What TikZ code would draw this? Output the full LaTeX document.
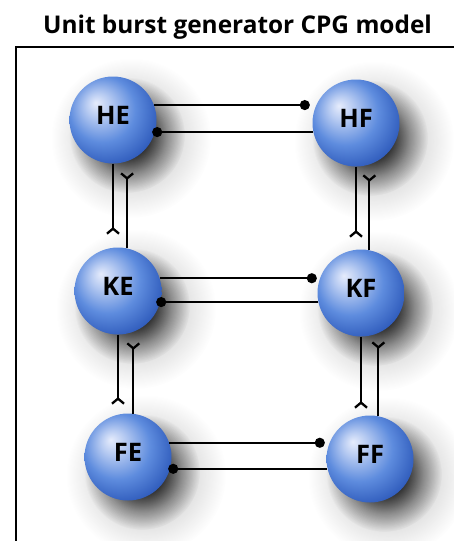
\documentclass[tikz,border=0pt]{standalone}
\usepackage{fontspec}
\setmainfont{Open Sans}
\usetikzlibrary{arrows.meta,calc,fadings}
\definecolor{sphmid}{RGB}{94,140,222}
\definecolor{sphlight}{RGB}{230,236,252}
\definecolor{sphdark}{RGB}{42,86,184}
\pgfdeclareradialshading{sphere}{\pgfpoint{-10bp}{10bp}}{color(0bp)=(sphlight); color(7bp)=(sphlight!65!sphmid); color(19bp)=(sphmid); color(32bp)=(sphdark); color(50bp)=(sphdark)}
\pgfdeclareradialshading{shfadeshade}{\pgfpointorigin}{color(0bp)=(transparent!0); color(9bp)=(transparent!10); color(17bp)=(transparent!60); color(25bp)=(transparent!100); color(50bp)=(transparent!100)}
\pgfdeclarefading{shfade}{\pgfuseshading{shfadeshade}}
\tikzfading[name=softshadow, inner color=transparent!0, outer color=transparent!100]
\tikzset{
  ball/.style={circle, minimum size=87pt, inner sep=0pt, shade, shading=sphere,
    font=\bfseries\fontsize{25.5}{25.5}\selectfont, text height=15pt, text depth=5.8pt},
  halo/.style={fill=black, opacity=0.3, path fading=softshadow},
  core/.style={fill=black, opacity=0.85, path fading=shfade},
  conn/.style={line width=2.3pt},
  inh/.style={conn, -{Circle[length=10pt,width=10pt]}},
  exc/.style={conn, -{Straight Barb[reversed,length=5pt,width=12pt]}},
  frame/.style={line width=2.5pt}
}
\begin{document}
\begin{tikzpicture}[x=1pt,y=-1pt]
\useasboundingbox (0,0) rectangle (454,541);
\clip (0,0) rectangle (454,541);
\fill[white] (0,0) rectangle (454,541);
\node[font=\bfseries\fontsize{24.4}{24}\selectfont, anchor=base] (title) at (237.5,33) {Unit burst generator CPG model};
\draw[frame] (16,570) -- (16,47) -- (480,47);
% shadows
\foreach \x/\y in {113/120,356/123,118/291,361/293,128/457,370/459}{
  \fill[halo] (\x+18,\y+18) circle (80);
  \fill[core] (\x+14,\y+15) circle (58);
}
% spheres
\node[ball] (HE) at (113,120) {HE};
\node[ball] (HF) at (356,123) {HF};
\node[ball] (KE) at (118,291) {KE};
\node[ball] (KF) at (361,293) {KF};
\node[ball] (FE) at (128,457) {FE};
\node[ball] (FF) at (370,459) {FF};
% horizontal inhibitory pairs
\draw[inh, shorten >=2.5pt] (HE.20) -- (HE.20 -| HF.west);
\draw[inh, shorten >=-4.5pt] (HF.192) -- (HF.192 -| HE.east);
\draw[inh, shorten >=0.5pt] (KE.17) -- (KE.17 -| KF.west);
\draw[inh, shorten >=-5.5pt] (KF.192) -- (KF.192 -| KE.east);
\draw[inh, shorten >=1.5pt] (FE.19) -- (FE.19 -| FF.west);
\draw[inh, shorten >=-3.5pt] (FF.193) -- (FF.193 -| FE.east);
% vertical excitatory pairs
\draw[exc, shorten >=12.5pt] (HE.south) -- (HE.south |- KE.north);
\draw[exc, shorten >=8.5pt] (KE.78) -- (KE.78 |- HE.south);
\draw[exc, shorten >=11.5pt] (HF.south) -- (HF.south |- KF.north);
\draw[exc, shorten >=7.5pt] (KF.79) -- (KF.79 |- HF.south);
\draw[exc, shorten >=8.5pt] (KE.south) -- (KE.south |- FE.north);
\draw[exc, shorten >=7.5pt] (FE.83) -- (FE.83 |- KE.south);
\draw[exc, shorten >=6.5pt] (KF.south) -- (KF.south |- FF.north);
\draw[exc, shorten >=4.5pt] (FF.79) -- (FF.79 |- KF.south);
\end{tikzpicture}
\end{document}
